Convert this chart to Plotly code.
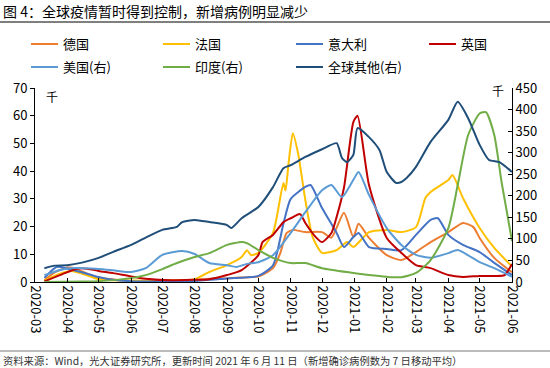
import plotly.graph_objects as go

# ---------------- data (thousand cases, 7-day average) ----------------
de_dates = ["2020-03-10","2020-03-20","2020-04-01","2020-04-08","2020-04-20","2020-05-01","2020-05-15","2020-06-01","2020-07-01","2020-08-01","2020-08-15","2020-09-01","2020-09-15","2020-10-01","2020-10-15","2020-10-22","2020-10-28","2020-11-03","2020-11-15","2020-12-01","2020-12-10","2020-12-22","2020-12-31","2021-01-05","2021-01-15","2021-02-01","2021-02-15","2021-03-01","2021-03-15","2021-04-01","2021-04-15","2021-04-25","2021-05-01","2021-05-15","2021-06-01"]
de_vals  = [0.7,3.5,5.2,5.0,3.0,1.5,0.9,0.4,0.4,0.7,1.2,1.3,1.6,2.0,5.0,10.4,17.6,18.8,18.0,18.0,16.0,25.0,16.2,21.0,15.9,9.7,7.9,10.8,14.4,18.0,21.3,19.8,15.9,8.7,3.5]

fr_dates = ["2020-03-10","2020-03-25","2020-04-05","2020-04-15","2020-05-01","2020-06-01","2020-07-01","2020-08-01","2020-08-15","2020-09-01","2020-09-15","2020-09-20","2020-09-24","2020-10-01","2020-10-15","2020-10-25","2020-10-27","2020-10-30","2020-11-03","2020-11-08","2020-11-15","2020-11-22","2020-12-01","2020-12-15","2020-12-25","2020-12-31","2021-01-15","2021-02-01","2021-02-15","2021-03-01","2021-03-10","2021-03-15","2021-04-01","2021-04-05","2021-04-15","2021-05-01","2021-05-15","2021-06-01"]
fr_vals  = [0.5,3.0,4.0,3.0,1.0,0.5,0.5,1.0,3.6,6.1,9.0,11.5,9.7,10.5,17.7,35.7,33.0,43.0,53.7,46.5,29.6,16.2,10.5,11.5,14.4,12.6,18.0,18.8,18.0,19.8,30.3,32.5,36.8,38.6,30.3,19.5,12.3,5.6]

it_dates = ["2020-03-10","2020-03-22","2020-04-01","2020-04-15","2020-05-01","2020-05-15","2020-06-01","2020-07-01","2020-08-01","2020-09-01","2020-10-01","2020-10-15","2020-10-25","2020-11-01","2020-11-15","2020-11-20","2020-12-01","2020-12-15","2020-12-22","2020-12-31","2021-01-05","2021-01-15","2021-02-01","2021-02-15","2021-03-01","2021-03-15","2021-03-22","2021-04-01","2021-04-15","2021-05-01","2021-05-15","2021-06-01"]
it_vals  = [1.5,5.5,4.8,3.5,1.8,0.8,0.3,0.2,0.4,1.3,2.2,6.0,21.0,30.0,34.3,35.0,26.7,17.7,12.6,16.2,17.7,12.6,11.9,11.5,17.0,22.4,23.0,17.0,13.4,10.8,6.9,2.5]

uk_dates = ["2020-03-10","2020-03-25","2020-04-10","2020-04-20","2020-05-01","2020-05-15","2020-06-01","2020-06-15","2020-07-10","2020-08-01","2020-08-15","2020-09-01","2020-09-15","2020-10-01","2020-10-05","2020-10-15","2020-10-25","2020-11-01","2020-11-10","2020-11-15","2020-11-25","2020-12-01","2020-12-10","2020-12-15","2020-12-22","2020-12-31","2021-01-04","2021-01-15","2021-02-01","2021-02-15","2021-03-01","2021-03-15","2021-04-01","2021-04-15","2021-05-01","2021-05-15","2021-05-25","2021-06-01"]
uk_vals  = [0.2,2.5,4.8,4.8,4.0,3.2,2.0,1.2,0.6,0.8,1.0,2.5,4.3,9.7,14.4,17.0,21.6,23.0,24.5,21.3,16.2,14.4,17.7,23.5,34.0,57.7,60.0,35.0,15.9,10.5,6.1,5.0,2.5,1.8,2.2,2.2,2.5,6.5]

us_dates = ["2020-03-10","2020-03-25","2020-04-05","2020-05-01","2020-05-15","2020-06-01","2020-06-15","2020-07-01","2020-07-20","2020-08-01","2020-08-15","2020-09-01","2020-09-10","2020-09-20","2020-10-01","2020-10-15","2020-11-01","2020-11-15","2020-12-01","2020-12-10","2020-12-20","2020-12-31","2021-01-05","2021-01-15","2021-02-01","2021-02-15","2021-03-01","2021-03-15","2021-04-01","2021-04-10","2021-05-01","2021-05-15","2021-06-01"]
us_vals  = [16,28,32,30,27,23,32,63,72,65,44,39,35,42,46,62,114,162,213,225,197,237,255,202,125,86,63,56,67,74,46,32,12]

in_dates = ["2020-03-10","2020-04-15","2020-05-01","2020-06-01","2020-06-15","2020-07-01","2020-07-15","2020-08-01","2020-08-15","2020-09-01","2020-09-15","2020-09-20","2020-10-01","2020-10-15","2020-11-01","2020-11-15","2020-12-01","2020-12-31","2021-01-15","2021-02-01","2021-02-15","2021-03-01","2021-03-15","2021-04-01","2021-04-10","2021-04-20","2021-05-01","2021-05-07","2021-05-15","2021-05-22","2021-06-01"]
in_vals  = [0,1,2,9,16,30,44,58,67,86,93,90,74,56,44,44,32,21,16,12,11,21,51,125,225,341,391,394,341,232,95]

ot_dates = ["2020-03-10","2020-03-20","2020-04-01","2020-04-15","2020-05-01","2020-05-15","2020-06-01","2020-06-15","2020-07-01","2020-07-15","2020-07-20","2020-08-01","2020-08-15","2020-09-01","2020-09-05","2020-09-15","2020-10-01","2020-10-15","2020-10-25","2020-11-01","2020-11-15","2020-12-01","2020-12-15","2020-12-20","2020-12-25","2020-12-31","2021-01-04","2021-01-15","2021-01-25","2021-02-01","2021-02-10","2021-02-15","2021-02-20","2021-03-01","2021-03-15","2021-04-01","2021-04-10","2021-04-20","2021-05-01","2021-05-10","2021-05-20","2021-06-01"]
ot_vals  = [32,38,39,45,56,70,86,103,121,128,139,144,139,132,125,148,174,220,264,271,290,308,322,288,278,295,357,336,306,255,230,232,241,267,325,376,418,380,318,283,278,255]

tick_vals = ["2020-03-01","2020-04-01","2020-05-01","2020-06-01","2020-07-01","2020-08-01","2020-09-01","2020-10-01","2020-11-01","2020-12-01","2021-01-01","2021-02-01","2021-03-01","2021-04-01","2021-05-01","2021-06-01"]
tick_text = [d[:7] for d in tick_vals]

series_names = ["德国", "法国", "意大利", "英国", "美国(右)", "印度(右)", "全球其他(右)"]
series_dates = [de_dates, fr_dates, it_dates, uk_dates, us_dates, in_dates, ot_dates]
series_vals = [de_vals, fr_vals, it_vals, uk_vals, us_vals, in_vals, ot_vals]
series_colors = ["#ED7D31", "#FFC000", "#4472C4", "#C00000", "#5B9BD5", "#70AD47", "#1F4E79"]
series_axes = ["y", "y", "y", "y", "y2", "y2", "y2"]

FONT = "Noto Sans CJK SC"
W, H = 550, 368
L, R, T, B = 35, 38, 88, 86
PW, PH = W - L - R, H - T - B


def px(xp):
    return (xp - L) / PW


def py(yp):
    return (H - B - yp) / PH


fig = go.Figure()
for name, d, v, c, ax in zip(series_names, series_dates, series_vals, series_colors, series_axes):
    fig.add_trace(go.Scatter(x=d, y=v, name=name, yaxis=ax, mode="lines",
                             line=dict(color=c, width=2, shape="spline", smoothing=0.6)))

fig.update_layout(
    width=W, height=H,
    margin=dict(l=L, r=R, t=T, b=B, autoexpand=False),
    paper_bgcolor="white", plot_bgcolor="white",
    font=dict(family=FONT, size=13, color="#000000"),
    showlegend=False,
    xaxis=dict(type="date", range=["2020-03-01", "2021-06-01"],
               tickvals=tick_vals, ticktext=tick_text, tickangle=90,
               showline=True, linecolor="black", linewidth=1,
               ticks="inside", ticklen=4, tickcolor="black",
               showgrid=False, zeroline=False, tickfont=dict(size=13), automargin=False),
    yaxis=dict(range=[0, 70], dtick=10, showline=True, linecolor="black",
               ticks="outside", ticklen=4, tickcolor="black",
               showgrid=False, zeroline=False, tickfont=dict(size=13), automargin=False),
    yaxis2=dict(range=[0, 450], dtick=50, overlaying="y", side="right",
                showline=True, linecolor="black", ticks="inside", ticklen=4,
                tickcolor="black", showgrid=False, zeroline=False,
                tickfont=dict(size=13), automargin=False),
)

# manual legend (4 columns)
leg_cols = [31, 163, 296, 429]
leg_rows = [44, 67]
for i, (name, c) in enumerate(zip(series_names, series_colors)):
    cx = leg_cols[i % 4]
    ry = leg_rows[i // 4]
    fig.add_shape(type="line", xref="paper", yref="paper", x0=px(cx), x1=px(cx + 27),
                  y0=py(ry), y1=py(ry), line=dict(color=c, width=2))
    fig.add_annotation(text=name, xref="paper", yref="paper", x=px(cx + 30), y=py(ry),
                       xanchor="left", yanchor="middle", showarrow=False,
                       font=dict(size=13, family=FONT, color="black"))

fig.add_annotation(text="图 4：全球疫情暂时得到控制，新增病例明显减少", xref="paper", yref="paper",
                   x=px(1), y=py(11), xanchor="left", yanchor="middle", showarrow=False,
                   font=dict(size=14, family=FONT, color="black"))
fig.add_annotation(text="千", xref="paper", yref="paper", x=px(52), y=py(97),
                   xanchor="center", yanchor="middle", showarrow=False, font=dict(size=12))
fig.add_annotation(text="千", xref="paper", yref="paper", x=px(498), y=py(91),
                   xanchor="center", yanchor="middle", showarrow=False, font=dict(size=12))
fig.add_annotation(text="资料来源：Wind，光大证券研究所，更新时间 2021 年 6 月 11 日（新增确诊病例数为 7 日移动平均）",
                   xref="paper", yref="paper", x=px(1), y=py(360), xanchor="left", yanchor="middle",
                   showarrow=False, font=dict(size=10.3, family=FONT, color="#333333"))
# title and footer separator lines
fig.add_shape(type="line", xref="paper", yref="paper", x0=px(0), x1=px(550), y0=py(22), y1=py(22),
              line=dict(color="#555555", width=1.5))
fig.add_shape(type="line", xref="paper", yref="paper", x0=px(0), x1=px(550), y0=py(351), y1=py(351),
              line=dict(color="#777777", width=1))

fig.write_html("out.html", config={"displayModeBar": False, "staticPlot": True},
               post_script="document.body.style.margin='0';document.body.style.overflow='hidden';")
